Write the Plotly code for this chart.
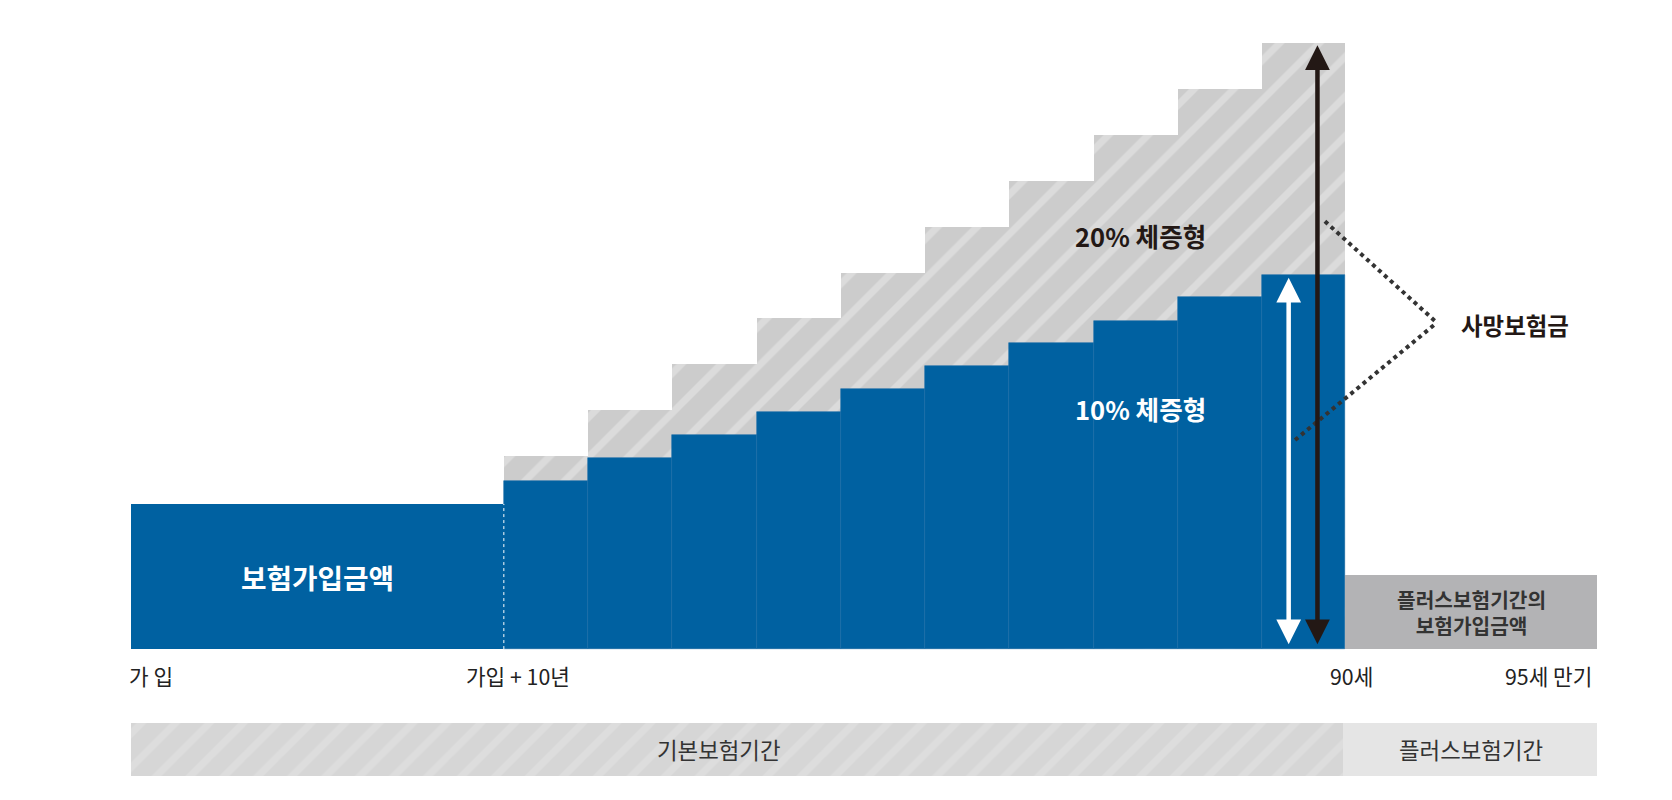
import plotly.graph_objects as go

# data (x edges, heights from baseline, in reference display units)
step_edges = [465, 544, 623, 702, 781, 860, 939, 1018, 1097, 1176, 1254]
blue_heights = [158, 179, 201, 222, 244, 265, 287, 308, 330, 351]
gray_heights = [181, 224, 267, 310, 353, 396, 439, 482, 525, 568]
base_amount = 136
base_span = [115, 465]
plus_span = [1254, 1490]
plus_amount = 69
tick_labels = ["가 입", "가입 + 10년", "90세", "95세 만기"]
tick_pos = [134, 478, 1260, 1445]

BLUE = "#0061a1"
FONT = "Noto Sans CJK KR"
K = 1672 / 1568
fig = go.Figure()

cx = [(a + b) / 2 for a, b in zip(step_edges[:-1], step_edges[1:])]
w = [b - a for a, b in zip(step_edges[:-1], step_edges[1:])]

fig.add_bar(x=cx, y=gray_heights, width=w, marker=dict(color="#cccccc", line_width=0,
            pattern=dict(shape="/", fgcolor="#e9e9e9", size=28, solidity=0.25, fillmode="overlay")))
fig.add_bar(x=cx, y=blue_heights, width=w, marker=dict(color=BLUE, line=dict(width=0.6, color="#1a6ba8")))
fig.add_bar(x=[sum(base_span) / 2], y=[base_amount], width=[base_span[1] - base_span[0]],
            marker=dict(color=BLUE, line_width=0))
fig.add_bar(x=[sum(plus_span) / 2], y=[plus_amount], width=[plus_span[1] - plus_span[0]],
            marker=dict(color="#b3b3b5", line_width=0))
fig.add_bar(x=[(115 + 1252) / 2], y=[50], base=[-119], width=[1252 - 115],
            marker=dict(color="#d6d6d6", line_width=0,
                        pattern=dict(shape="/", fgcolor="#e4e4e4", size=24, solidity=0.3, fillmode="overlay")))
fig.add_bar(x=[(1252 + 1490) / 2], y=[50], base=[-119], width=[1490 - 1252],
            marker=dict(color="#e5e5e5", line_width=0))

fig.add_shape(type="line", x0=465, x1=465, y0=0, y1=136, line=dict(color="white", width=1, dash="dot"))
fig.add_shape(type="line", x0=1235, y0=401, x1=1340, y1=306, line=dict(color="#333", width=4, dash="dot"))
fig.add_shape(type="line", x0=1207, y0=196, x1=1340, y1=306, line=dict(color="#333", width=4, dash="dot"))

for x0, y0, y1, col in [(1228, 3, 566, "#231815"), (1201, 3, 348, "white")]:
    fig.add_annotation(x=x0, y=y1, ax=x0, ay=y0, xref="x", yref="y", axref="x", ayref="y",
                       showarrow=True, arrowhead=2, arrowside="end+start", arrowsize=1.1,
                       arrowwidth=4.5, arrowcolor=col, text="")

def txt(x, y, s, size=22, color="#222", bold=False):
    fig.add_annotation(x=x, y=y, text=f"<b>{s}</b>" if bold else s, showarrow=False,
                       font=dict(family=FONT, size=size * K, color=color))

txt(1062, 388, "20% 체증형", 24, "#231815", True)
txt(1062, 226, "10% 체증형", 24, "white", True)
txt(290, 68, "보험가입금액", 26, "white", True)
txt(1413, 304, "사망보험금", 22, "#231815", True)
txt(1372, 35, "플러스보험기간의<br>보험가입금액", 19, "#333", True)
for p, l in zip(tick_pos, tick_labels):
    txt(p, -25, l, 20, "#222")
txt(667, -94, "기본보험기간", 21, "#333")
txt(1372, -94, "플러스보험기간", 21, "#333")

fig.update_layout(width=1672, height=800, margin=dict(l=0, r=0, t=0, b=0), barmode="overlay",
                  plot_bgcolor="white", paper_bgcolor="white", showlegend=False,
                  xaxis=dict(range=[0, 1568], visible=False, fixedrange=True),
                  yaxis=dict(range=[-149, 601], visible=False, fixedrange=True), bargap=0)
fig.write_html("out.html")
